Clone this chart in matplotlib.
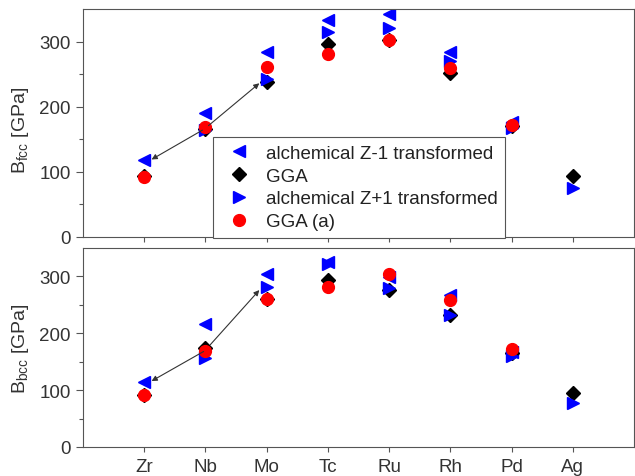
# %%
import numpy as np
import matplotlib
matplotlib.use("Agg")
import matplotlib.pyplot as plt

plt.rcParams['font.family'] = ['Liberation Sans', 'DejaVu Sans']
plt.rcParams['mathtext.fontset'] = 'custom'
plt.rcParams['mathtext.rm'] = 'Liberation Sans'

# %% Bulk moduli [GPa]
elements = ['Zr', 'Nb', 'Mo', 'Tc', 'Ru', 'Rh', 'Pd', 'Ag']

fcc_zm1 = [118, 190, 284, 333, 343, 284, 176, np.nan]
fcc_gga = [94, 166, 238, 297, 302, 251, 170, 93]
fcc_zp1 = [np.nan, 164, 242, 315, 321, 270, 167, 75]
fcc_gga_a = [92, 169, 261, 281, 303, 259, 172, np.nan]

bcc_zm1 = [115, 216, 304, 325, 299, 268, 167, np.nan]
bcc_gga = [91, 175, 260, 294, 277, 232, 166, 95]
bcc_zp1 = [np.nan, 156, 281, 321, 279, 232, 160, 77]
bcc_gga_a = [92, 168, 261, 281, 305, 258, 173, np.nan]

# Nb -> Zr and Nb -> Mo transformations (arrow tip, arrow start)
fcc_arrows = [((1.12, 119), (1.95, 164)), ((2.88, 236), (2.05, 171))]
bcc_arrows = [((1.12, 116), (1.97, 168)), ((2.88, 276), (2.08, 180))]

x = np.arange(1, len(elements) + 1)
grey = '#555555'

# %% Panels
fig = plt.figure(figsize=(6.35, 4.77), dpi=100)
ax1 = fig.add_axes([83 / 635, 1 - 238 / 477, 551 / 635, 228 / 477])
ax2 = fig.add_axes([83 / 635, 1 - 448 / 477, 551 / 635, 199 / 477])


def draw_panel(ax, zm1, gga, zp1, gga_a, arrows, ylabel, label_y):
    ax.plot(x, zm1, ls='none', marker='<', ms=9, color='blue',
            label='alchemical Z-1 transformed')
    ax.plot(x, gga, ls='none', marker='D', ms=7, color='black', label='GGA')
    ax.plot(x, zp1, ls='none', marker='>', ms=9, color='blue',
            label='alchemical Z+1 transformed')
    ax.plot(x, gga_a, ls='none', marker='o', ms=8.5, color='red',
            label='GGA (a)')

    for tip, start in arrows:
        ax.annotate('', xy=tip, xytext=start,
                    arrowprops=dict(arrowstyle='-|>', color='#333333',
                                    lw=0.8, mutation_scale=8,
                                    shrinkA=0, shrinkB=0))

    ax.set_xlim(0, 9)
    ax.set_ylim(0, 350)
    ax.set_xticks(x)
    ax.set_xticklabels(elements)
    ax.set_yticks([0, 100, 200, 300])
    ax.set_yticks([50, 150, 250], minor=True)
    ax.tick_params(which='major', direction='out', length=4.7, width=0.8,
                   color=grey, labelsize=13.5, labelcolor='#333333', pad=4)
    ax.tick_params(which='minor', direction='out', length=2.7, width=0.8,
                   color=grey)
    ax.tick_params(axis='x', length=3.6)
    for s in ax.spines.values():
        s.set_color(grey)
        s.set_linewidth(0.8)
    ax.set_ylabel(ylabel, fontsize=14, color='#333333')
    ax.yaxis.set_label_coords(-0.095, label_y)


draw_panel(ax1, fcc_zm1, fcc_gga, fcc_zp1, fcc_gga_a, fcc_arrows,
           r'B$_{\rm fcc}$ [GPa]', 0.47)
draw_panel(ax2, bcc_zm1, bcc_gga, bcc_zp1, bcc_gga_a, bcc_arrows,
           r'B$_{\rm bcc}$ [GPa]', 0.50)
ax1.tick_params(axis='x', labelbottom=False)

leg = ax1.legend(loc='upper left', bbox_to_anchor=(0.236, 0.4386),
                 borderaxespad=0, numpoints=1, fontsize=13.5,
                 labelspacing=0.31, handlelength=2.0, handletextpad=0.4,
                 borderpad=0.4, fancybox=False, framealpha=1)
leg.get_frame().set_edgecolor(grey)
leg.get_frame().set_linewidth(0.8)
for t in leg.get_texts():
    t.set_color('#222222')

fig.savefig('out.png', dpi=100)
